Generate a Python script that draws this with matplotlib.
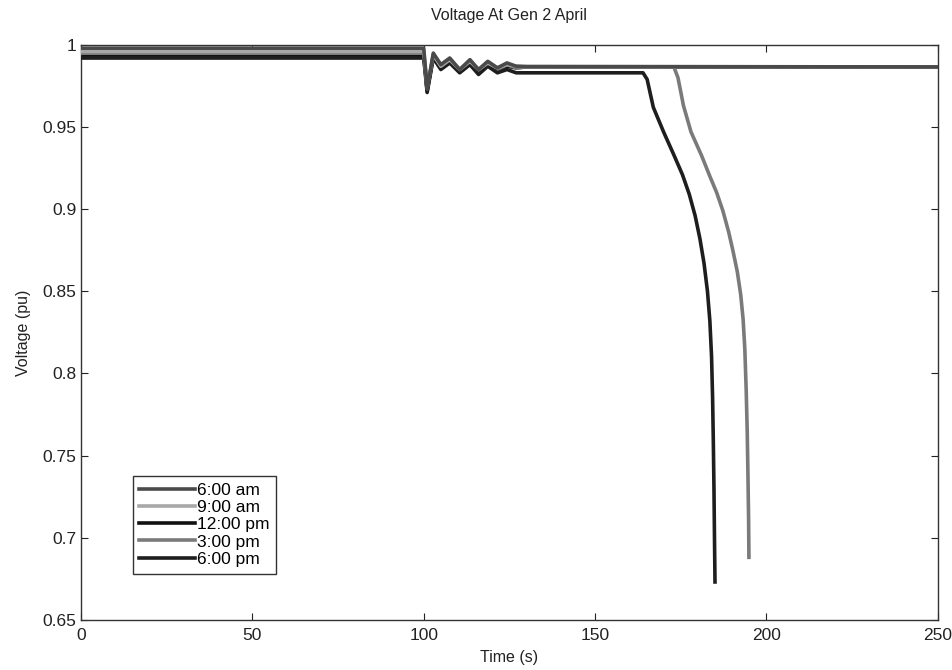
import matplotlib
matplotlib.use("Agg")
import matplotlib.pyplot as plt

labels = ["6:00 am", "9:00 am", "12:00 pm", "3:00 pm", "6:00 pm"]
colors = ["#4a4a4a", "#a8a8a8", "#111111", "#7a7a7a", "#1e1e1e"]

t_am6 = [0, 100, 100.5, 101, 102.8, 105, 107.6, 110.5, 113.5, 116, 118.7, 121.5, 124.3, 127, 130, 250]
v_am6 = [0.998, 0.998, 0.986, 0.973, 0.995, 0.988, 0.992, 0.985, 0.991, 0.985, 0.990, 0.986, 0.989, 0.987, 0.9868, 0.9866]

t_am9 = [0, 100, 100.5, 101, 102.8, 105, 107.6, 110.5, 113.5, 116, 118.7, 121.5, 124.3, 127, 130, 250]
v_am9 = [0.996, 0.996, 0.985, 0.974, 0.994, 0.987, 0.991, 0.985, 0.990, 0.985, 0.989, 0.986, 0.988, 0.987, 0.9868, 0.9866]

t_pm12 = [0, 100, 100.5, 101, 102.8, 105, 107.6, 110.5, 113.5, 116, 118.7, 121.5, 124.3, 127, 130, 250]
v_pm12 = [0.993, 0.993, 0.983, 0.972, 0.993, 0.986, 0.990, 0.984, 0.989, 0.984, 0.988, 0.985, 0.987, 0.986, 0.9866, 0.9865]

t_pm3 = [0, 100, 100.5, 101, 102.8, 105, 107.6, 110.5, 113.5, 116, 118.7, 121.5, 124.3, 127, 130, 173.0, 174.2,
         175.8, 178.0, 181.0, 183.5, 185.5, 187.3, 189.0, 190.2, 191.5, 192.5, 193.2, 193.7, 194.1, 194.4, 194.6, 194.8, 194.9]
v_pm3 = [0.995, 0.995, 0.984, 0.972, 0.994, 0.987, 0.991, 0.984, 0.990, 0.984, 0.989, 0.985, 0.988, 0.986, 0.9866, 0.9866, 0.980,
         0.963, 0.947, 0.933, 0.920, 0.910, 0.899, 0.886, 0.875, 0.862, 0.848, 0.833, 0.815, 0.790, 0.765, 0.740, 0.712, 0.688]

t_pm6 = [0, 100, 100.5, 101, 102.8, 105, 107.6, 110.5, 113.5, 116, 118.7, 121.5, 124.3, 127, 130, 164.0, 165.2,
         167.0, 170.0, 173.0, 175.5, 177.5, 179.2, 180.6, 181.8, 182.8, 183.5, 184.0, 184.3, 184.5, 184.7, 184.85, 185.0]
v_pm6 = [0.992, 0.992, 0.982, 0.971, 0.992, 0.985, 0.989, 0.983, 0.988, 0.982, 0.987, 0.983, 0.985, 0.983, 0.983, 0.983, 0.979,
         0.962, 0.947, 0.933, 0.921, 0.909, 0.896, 0.882, 0.867, 0.850, 0.832, 0.810, 0.785, 0.760, 0.730, 0.700, 0.673]

series_t = [t_am6, t_am9, t_pm12, t_pm3, t_pm6]
series_v = [v_am6, v_am9, v_pm12, v_pm3, v_pm6]
series_z = [5, 4, 2, 3, 3]

x_ticks = [0, 50, 100, 150, 200, 250]
y_ticks = [0.65, 0.7, 0.75, 0.8, 0.85, 0.9, 0.95, 1]
y_tick_labels = ["0.65", "0.7", "0.75", "0.8", "0.85", "0.9", "0.95", "1"]

plt.rcParams["font.family"] = ["Liberation Sans", "DejaVu Sans"]

fig = plt.figure(figsize=(9.53, 6.70), dpi=100)
ax = fig.add_axes([0.085, 0.075, 0.899, 0.858])

for t, v, c, lab, z in zip(series_t, series_v, colors, labels, series_z):
    ax.plot(t, v, color=c, lw=2.6, label=lab, zorder=z)

ax.set_xlim(0, 250)
ax.set_ylim(0.65, 1.0)
ax.set_xticks(x_ticks)
ax.set_yticks(y_ticks)
ax.set_yticklabels(y_tick_labels)
ax.tick_params(direction="in", length=5, labelsize=12.5, colors="#222222", top=True, right=True)
ax.tick_params(axis="x", pad=6)
for s in ax.spines.values():
    s.set_color("#333333")
    s.set_linewidth(1.0)

ax.set_title("Voltage At Gen 2 April", fontsize=11.5, color="#222222", pad=18)
ax.set_xlabel("Time (s)", fontsize=11.5, color="#222222", labelpad=5)
ax.set_ylabel("Voltage (pu)", fontsize=11.5, color="#222222", labelpad=8)

leg = ax.legend(loc="lower left", bbox_to_anchor=(0.05, 0.065), fontsize=12.5, handlelength=3.2,
                handletextpad=0.1, labelspacing=0.12, borderpad=0.4, fancybox=False,
                framealpha=1, edgecolor="#333333")
leg.get_frame().set_linewidth(1.0)
leg.set_zorder(10)

fig.savefig("out.png", dpi=100, facecolor="white")
